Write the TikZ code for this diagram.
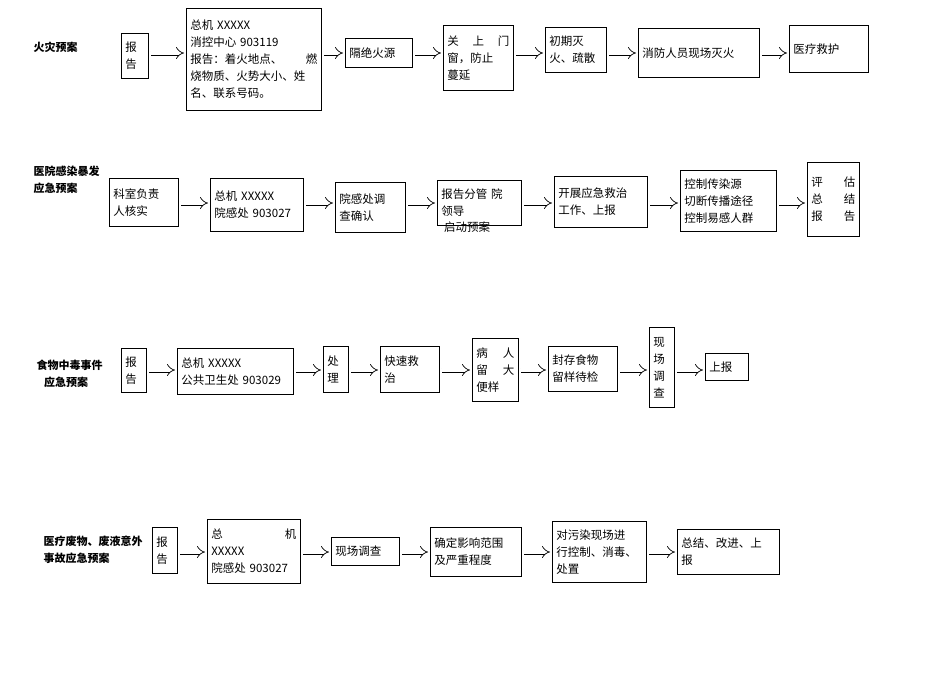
\documentclass[tikz,border=0pt]{standalone}
\usepackage{fontspec}
\setmainfont{Noto Sans CJK SC}
\usetikzlibrary{arrows.meta}
\tikzset{
 bx/.style={draw,line width=0.8pt,anchor=north west,inner sep=4pt,align=left,font=\fontsize{11.5}{17}\selectfont},
 lbl/.style={font=\bfseries\fontsize{11}{17}\selectfont,align=left,anchor=west},
 barrow/.style={double,double distance=3.6pt,line width=0.7pt,-{Implies},shorten <=2pt,shorten >=2pt}
}
\newcommand{\bx}[6]{\node[bx,minimum width=#4pt,minimum height=#5pt,text width=#4pt-8pt] (#1) at (#2,#3) {#6};}
\begin{document}
\begin{tikzpicture}[x=1pt,y=-1pt]
\useasboundingbox (0,0) rectangle (950,672);
% row 1
\node[lbl] (l1) at (30,47) {火灾预案};
\bx{a1}{121}{33}{27}{45}{报\\告}
\bx{a2}{186}{8}{135}{102}{总机 XXXXX\\消控中心 903119\\报告：着火地点、\hfill 燃\\烧物质、火势大小、姓\\名、联系号码。}
\bx{a3}{345}{38}{67}{29}{隔绝火源}
\bx{a4}{443}{25}{70}{65}{关\hfill 上\hfill 门\\窗，防止\\蔓延}
\bx{a5}{545}{27}{61}{45}{初期灭\\火、疏散}
\bx{a6}{638}{28}{121}{49}{消防人员现场灭火\\[8pt]}
\bx{a7}{789}{25}{79}{47}{医疗救护\\[8pt]}
\coordinate (r1) at (0,53);
\foreach \p/\q in {a1/a2,a2/a3,a3/a4,a4/a5,a5/a6,a6/a7}
 \draw[barrow] (\p.east|-r1) -- (\q.west|-r1);
% row 2
\node[lbl] (l2) at (30,180) {医院感染暴发\\应急预案};
\bx{b1}{109}{178}{69}{48}{科室负责\\人核实}
\bx{b2}{210}{178}{93}{53}{总机 XXXXX\\院感处 903027\\[4pt]}
\bx{b3}{335}{182}{70}{50}{院感处调\\查确认}
\bx{b4}{437}{180}{84}{45}{报告分管 院\\领导\\[-6pt]}
\node[anchor=north west,inner sep=0pt,font=\fontsize{11.5}{17}\selectfont] (b4x) at (444,222) {启动预案};
\bx{b5}{554}{176}{93}{51}{开展应急救治\\工作、上报}
\bx{b6}{680}{170}{96}{61}{控制传染源\\切断传播途径\\控制易感人群}
\bx{b7}{807}{162}{52}{74}{评\hfill 估\\总\hfill 结\\报\hfill 告}
\coordinate (r2) at (0,203);
\foreach \p/\q in {b1/b2,b2/b3,b3/b4,b4/b5,b5/b6,b6/b7}
 \draw[barrow] (\p.east|-r2) -- (\q.west|-r2);
% row 3
\node[lbl] (l3) at (33,374) {食物中毒事件\\\ \ \ 应急预案};
\bx{c1}{121}{348}{25}{44}{报\\告}
\bx{c2}{177}{348}{116}{46}{总机 XXXXX\\公共卫生处 903029}
\bx{c3}{323}{346}{25}{46}{处\\理}
\bx{c4}{380}{346}{59}{46}{快速救\\治}
\bx{c5}{472}{338}{46}{63}{病\hfill 人\\留\hfill 大\\便样}
\bx{c6}{548}{346}{69}{45}{封存食物\\留样待检}
\bx{c7}{649}{327}{25}{80}{现\\场\\调\\查}
\bx{c8}{705}{353}{43}{27}{上报}
\coordinate (r3) at (0,370);
\foreach \p/\q in {c1/c2,c2/c3,c3/c4,c4/c5,c5/c6,c6/c7,c7/c8}
 \draw[barrow] (\p.east|-r3) -- (\q.west|-r3);
% row 4
\node[lbl] (l4) at (40,550) {医疗废物、废液意外\\事故应急预案};
\bx{d1}{152}{527}{25}{46}{报\\告}
\bx{d2}{207}{519}{93}{64}{总\hfill 机\\XXXXX\\院感处 903027}
\bx{d3}{331}{537}{68}{28}{现场调查}
\bx{d4}{430}{527}{91}{49}{确定影响范围\\及严重程度}
\bx{d5}{552}{521}{94}{61}{对污染现场进\\行控制、消毒、\\处置}
\bx{d6}{677}{529}{102}{45}{总结、改进、上\\报}
\coordinate (r4) at (0,552);
\foreach \p/\q in {d1/d2,d2/d3,d3/d4,d4/d5,d5/d6}
 \draw[barrow] (\p.east|-r4) -- (\q.west|-r4);
\end{tikzpicture}
\end{document}
